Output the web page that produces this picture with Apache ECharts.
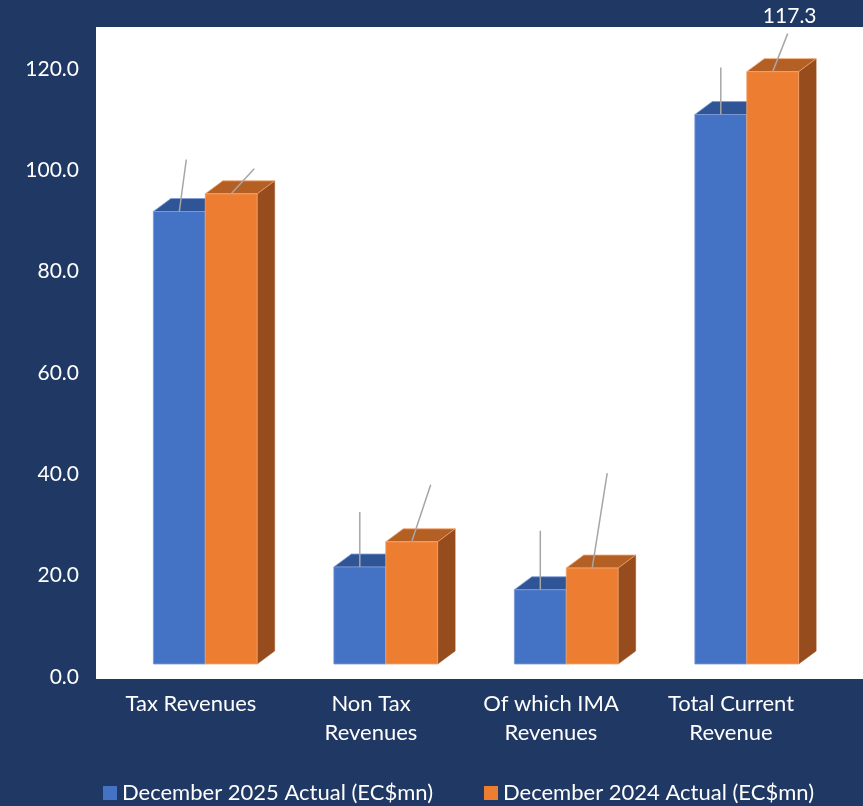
<!DOCTYPE html>
<html>
<head>
<meta charset="utf-8">
<script src="https://cdn.jsdelivr.net/npm/echarts@6/dist/echarts.min.js"></script>
<style>
html,body{margin:0;padding:0;background:#203864;}
#c{width:863px;height:806px;}
</style>
</head>
<body>
<div id="c"></div>
<script>
// ---- data ----
var categories = ['Tax Revenues', 'Non Tax\nRevenues', 'Of which IMA\nRevenues', 'Total Current\nRevenue'];
var seriesNames = ['December 2025 Actual (EC$mn)', 'December 2024 Actual (EC$mn)'];
var dec2025 = [89.6, 19.2, 14.7, 108.8];
var dec2024 = [93.1, 24.2, 19.0, 117.3];
var yTicks = [0, 20, 40, 60, 80, 100, 120];

// ---- layout / style (not data) ----
var leaderOffsets = [
  [[7, -52], [0, -55], [0, -59], [0, -47]],
  [[23, -25], [19, -57], [15, -95], [15, -38]]
];
var faceColors = [
  {front: '#4472C4', top: '#2F5597', side: '#2F528F', edge: '#7D9BD6'},
  {front: '#ED7D31', top: '#B45F24', side: '#964C1D', edge: '#F3A66F'}
];
var DX = 17.5, DY = 13;
var FONT = 'Lato, "Open Sans", sans-serif';

var chart = echarts.init(document.getElementById('c'), null, {renderer: 'canvas'});

function makeRender(s) {
  return function (params, api) {
    var cat = api.value(0), v = api.value(1);
    var p0 = api.coord([cat, 0]);
    var p1 = api.coord([cat, v]);
    var band = api.size([1, 0])[0];
    var w = band * 0.2875;
    var x0 = p0[0] - w + s * w;
    var yb = p0[1], yt = p1[1];
    var c = faceColors[s];
    var off = leaderOffsets[s][cat];
    var lx = x0 + w / 2, ly = yt;
    var ex = lx + off[0], ey = ly + off[1];
    return {
      type: 'group',
      children: [
        {type: 'polygon', shape: {points: [[x0 + w, yt], [x0 + w + DX, yt - DY], [x0 + w + DX, yb - DY], [x0 + w, yb]]},
          style: {fill: c.side, stroke: c.side, lineWidth: 0.5}},
        {type: 'polygon', shape: {points: [[x0, yt], [x0 + DX, yt - DY], [x0 + w + DX, yt - DY], [x0 + w, yt]]},
          style: {fill: c.top, stroke: c.edge, lineWidth: 0.8}},
        {type: 'rect', shape: {x: x0, y: yt, width: w, height: yb - yt},
          style: {fill: c.front, stroke: c.edge, lineWidth: 0.8}},
        {type: 'line', shape: {x1: lx, y1: ly, x2: ex, y2: ey},
          style: {stroke: '#A6A6A6', lineWidth: 1.5}},
        {type: 'text', x: ex + 2, y: ey - 17,
          style: {text: v.toFixed(1), fill: '#FFFFFF', font: '21px ' + FONT,
            textAlign: 'center', textVerticalAlign: 'middle', align: 'center', verticalAlign: 'middle'}}
      ]
    };
  };
}

var option = {
  backgroundColor: '#203864',
  animation: false,
  graphic: [{
    type: 'rect', left: 96, top: 27, z: -10,
    shape: {width: 767, height: 652},
    style: {fill: '#FFFFFF'}
  }],
  grid: [
    {left: 101, right: 42, top: 69, bottom: 129},
    {left: 115, right: 26, top: 58, bottom: 142}
  ],
  xAxis: [
    {type: 'category', gridIndex: 0, data: categories,
      axisLine: {show: false}, axisTick: {show: false}, splitLine: {show: false},
      axisLabel: {color: '#FFFFFF', fontSize: 22, fontFamily: FONT, lineHeight: 29, margin: 12, interval: 0}},
    {type: 'category', gridIndex: 1, data: categories, show: false}
  ],
  yAxis: [
    {type: 'value', gridIndex: 0, min: yTicks[0], max: yTicks[yTicks.length - 1], interval: 20,
      axisLine: {show: false}, axisTick: {show: false}, splitLine: {show: false},
      axisLabel: {color: '#FFFFFF', fontSize: 21, fontFamily: FONT, margin: 22,
        formatter: function (v) { return v.toFixed(1); }}},
    {type: 'value', gridIndex: 1, min: 0, max: 120, show: false}
  ],
  legend: [
    {data: [seriesNames[0]], left: 103, top: 782, padding: 0, itemWidth: 14, itemHeight: 14, icon: 'rect',
      textStyle: {color: '#FFFFFF', fontSize: 22, fontFamily: FONT, padding: [0, 0, 0, 0]}, itemGap: 5},
    {data: [seriesNames[1]], left: 484, top: 782, padding: 0, itemWidth: 14, itemHeight: 14, icon: 'rect',
      textStyle: {color: '#FFFFFF', fontSize: 22, fontFamily: FONT, padding: [0, 0, 0, 0]}, itemGap: 5}
  ],
  series: [
    {name: seriesNames[0], type: 'custom', xAxisIndex: 1, yAxisIndex: 1, clip: false,
      itemStyle: {color: faceColors[0].front},
      renderItem: makeRender(0),
      data: dec2025.map(function (v, i) { return [i, v]; })},
    {name: seriesNames[1], type: 'custom', xAxisIndex: 1, yAxisIndex: 1, clip: false,
      itemStyle: {color: faceColors[1].front},
      renderItem: makeRender(1),
      data: dec2024.map(function (v, i) { return [i, v]; })}
  ]
};
chart.setOption(option);
</script>
</body>
</html>
